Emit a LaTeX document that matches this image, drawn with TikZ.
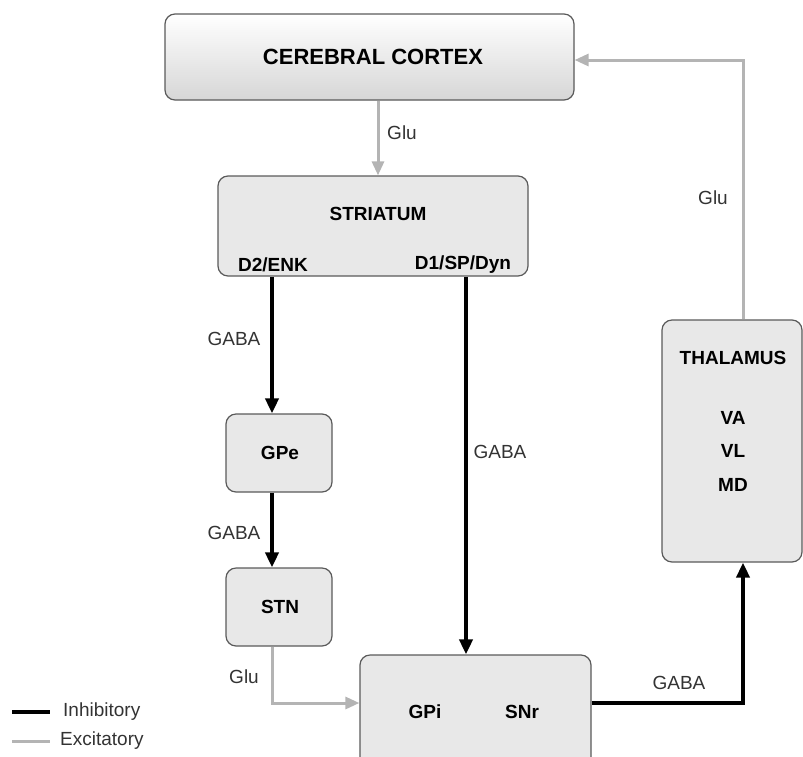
\documentclass[tikz,border=0pt]{standalone}
\usepackage{fontspec}
\setmainfont{Liberation Sans}
\usetikzlibrary{arrows.meta}
\definecolor{boxfill}{HTML}{E8E8E8}
\definecolor{boxline}{HTML}{5A5A5A}
\definecolor{excit}{HTML}{B4B4B4}
\definecolor{labtext}{HTML}{333333}
\tikzset{
  region/.style={draw=boxline, line width=1.2pt, rounded corners=10pt, fill=boxfill, inner sep=0pt},
  boxtext/.style={font=\fontsize{19}{21}\selectfont\bfseries, text=black, inner sep=0pt},
  lab/.style={font=\fontsize{19}{21}\selectfont, text=labtext, inner sep=0pt},
  inhib/.style={line width=4pt, draw=black, -{Triangle[length=15pt,width=13pt]}},
  excite/.style={line width=3pt, draw=excit, -{Triangle[length=14pt,width=12pt]}},
}
\begin{document}
\begin{tikzpicture}[x=1pt,y=-1pt]
\useasboundingbox (0,0) rectangle (803,756);
\clip (0,0) rectangle (803,756);

% boxes
\node[region, top color=white, bottom color=black!16, minimum width=409pt, minimum height=86pt] (cortex) at (369.5,57) {};
\node[region, minimum width=310pt, minimum height=100pt] (striat) at (373,226) {};
\node[region, minimum width=106pt, minimum height=78pt] (gpe) at (279,453) {};
\node[region, minimum width=106pt, minimum height=78pt] (stn) at (279,607) {};
\node[region, minimum width=231pt, minimum height=120pt] (gpi) at (475.5,715) {};
\node[region, minimum width=140pt, minimum height=242pt] (thal) at (732,441) {};

% box texts
\node[boxtext, font=\fontsize{22}{24}\selectfont\bfseries] (tcortex) at (373,57) {CEREBRAL CORTEX};
\node[boxtext] (tstriat) at (378,214) {STRIATUM};
\node[boxtext] (td2) at (273,265) {D2/ENK};
\node[boxtext] (td1) at (463,265) {D1/SP/Dyn};
\node[boxtext] (tgpe) at (280,453) {GPe};
\node[boxtext] (tstn) at (280,607) {STN};
\node[boxtext] (tgpi) at (425,712) {GPi};
\node[boxtext] (tsnr) at (522,712) {SNr};
\node[boxtext] (tthal) at (733,358) {THALAMUS};
\node[boxtext] (tva) at (733,418) {VA};
\node[boxtext] (tvl) at (733,451) {VL};
\node[boxtext] (tmd) at (733,485) {MD};

% routing columns and rows
\coordinate (colglu) at (378,0);
\coordinate (cold2) at (272,0);
\coordinate (cold1) at (466,0);
\coordinate (colthal) at (743,0);
\coordinate (rowout) at (0,703);
\coordinate (rowtop) at (0,60);
\coordinate (stnbend) at (272,703);
\coordinate (gpibend) at (743,703);
\coordinate (thalbend) at (743,60);

% connectors
\draw[excite] (cortex.south -| colglu) -- (striat.north -| colglu);
\draw[inhib] (striat.south -| cold2) -- (gpe.north -| cold2);
\draw[inhib] (gpe.south -| cold2) -- (stn.north -| cold2);
\draw[excite] (stn.south -| cold2) -- (stnbend) -- (gpi.west |- rowout);
\draw[inhib] (striat.south -| cold1) -- (gpi.north -| cold1);
\draw[inhib] (gpi.east |- rowout) -- (gpibend) -- (thal.south -| colthal);
\draw[excite] (thal.north -| colthal) -- (thalbend) -- (cortex.east |- rowtop);

% transmitter labels
\node[lab] (lglu1) at (402,133) {Glu};
\node[lab] (lgaba1) at (234,339) {GABA};
\node[lab] (lgaba2) at (234,533) {GABA};
\node[lab] (lglu2) at (244,677) {Glu};
\node[lab] (lgaba3) at (500,452) {GABA};
\node[lab] (lgaba4) at (679,683) {GABA};
\node[lab] (lglu3) at (713,198) {Glu};

% legend
\coordinate (li1) at (12,712);
\coordinate (li2) at (50,712);
\coordinate (le1) at (12,741);
\coordinate (le2) at (50,741);
\draw[line width=4pt, black] (li1) -- (li2);
\draw[line width=3pt, excit] (le1) -- (le2);
\node[lab, anchor=west] (linh) at (63,712) {Inhibitory};
\node[lab, anchor=west] (lexc) at (60,741) {Excitatory};
\end{tikzpicture}
\end{document}
